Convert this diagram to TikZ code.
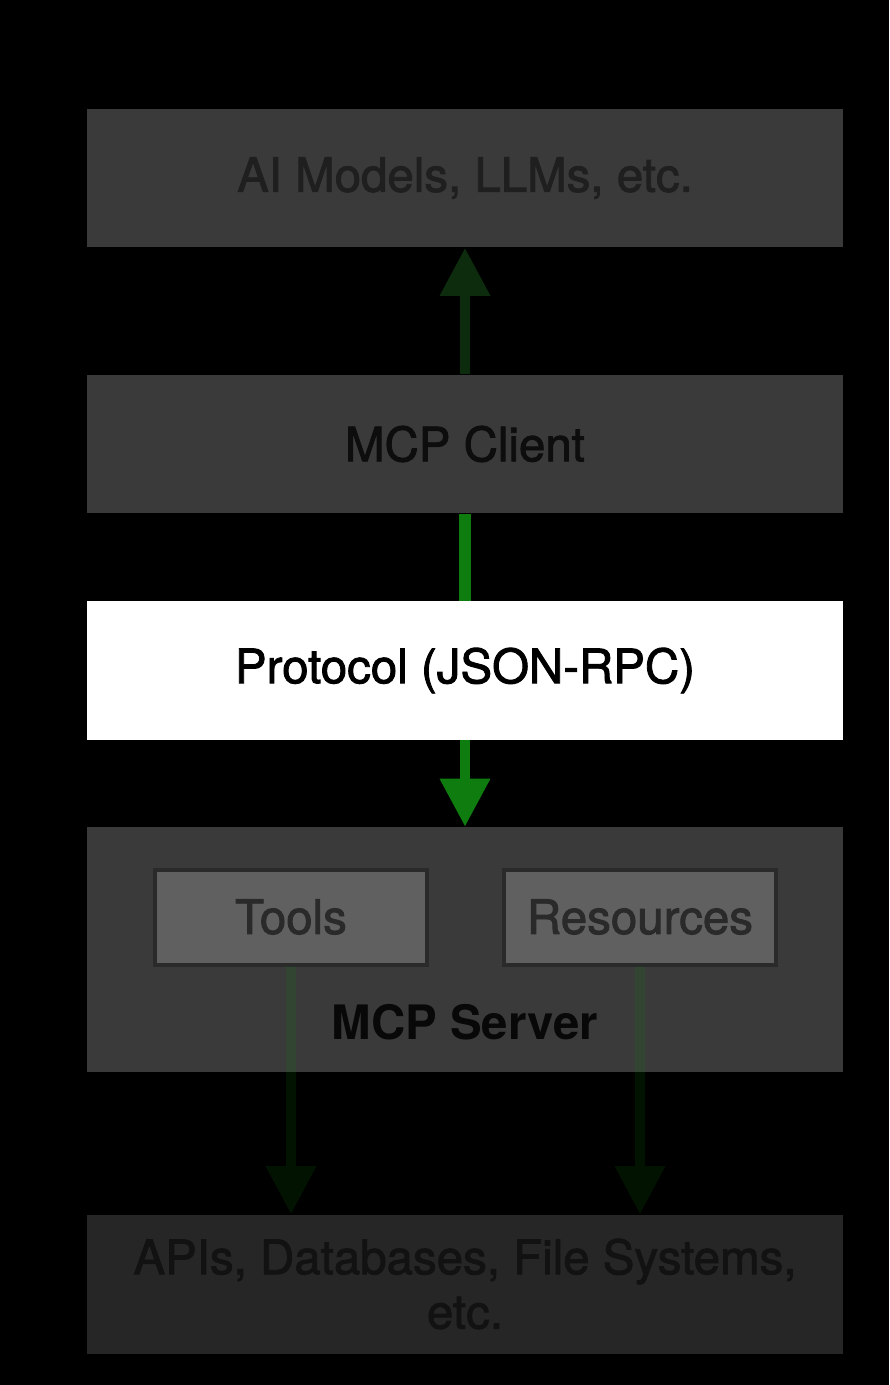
\documentclass[tikz,border=0pt]{standalone}
\usepackage{fontspec}
\setmainfont{TeX Gyre Heros}
\newfontfamily\semibold[FakeBold=1.8]{TeX Gyre Heros}
\usetikzlibrary{arrows.meta}
\definecolor{boxgray}{HTML}{3A3A3A}
\definecolor{boxdim}{HTML}{262626}
\definecolor{subgray}{HTML}{606060}
\definecolor{subedge}{HTML}{2A2A2A}
\definecolor{flowgreen}{HTML}{0E7C0E}
\definecolor{dimgreen}{HTML}{0D2C0D}
\begin{document}
\begin{tikzpicture}[x=0.02cm,y=-0.02cm,
    layer/.style={fill=boxgray,minimum width=15.12cm,minimum height=2.78cm,font=\fontsize{27}{31}\selectfont\semibold},
    part/.style={fill=subgray,draw=subedge,line width=0.08cm,minimum width=5.46cm,minimum height=1.9cm,text=subedge,font=\fontsize{27}{31}\selectfont\semibold},
    flow/.style={line width=0.2cm,-{Triangle[width=0.96cm,length=0.96cm]}}]
    \tikzstyle{every node}+=[inner sep=0pt]
    \fill [black] (0,0) rectangle (889,1385);
    \node [layer,text=black!88] (models) at (465,178) {AI Models, LLMs, etc.};
    \node [layer,text=black!95] (client) at (465,444) {MCP Client};
    \node [layer,fill=white,text=black] (proto) at (465,670.5) {Protocol (JSON-RPC)};
    \node [layer,minimum height=4.9cm] (server) at (465,949.5) {};
    \node [font=\fontsize{27}{31}\selectfont\bfseries,text=black!97] (srvname) at (465,1022) {MCP Server};
    \node [part] (tools) at (291,917) {Tools};
    \node [part] (res) at (640,917) {Resources};
    \node [layer,fill=boxdim,text=black!93,align=center] (apis) at (465,1284) {APIs, Databases, File Systems,\\etc.};
    \draw [flow,dimgreen] (client.north) -- (models.south);
    \draw [line width=0.24cm,flowgreen] (client.south) -- (proto.north);
    \draw [flow,flowgreen] (proto.south) -- (server.north);
    \begin{scope}[transparency group,opacity=0.16]
    \draw [flow,flowgreen] (tools.south) -- (tools.south |- apis.north);
    \draw [flow,flowgreen] (res.south) -- (res.south |- apis.north);
    \end{scope}
\end{tikzpicture}
\end{document}
